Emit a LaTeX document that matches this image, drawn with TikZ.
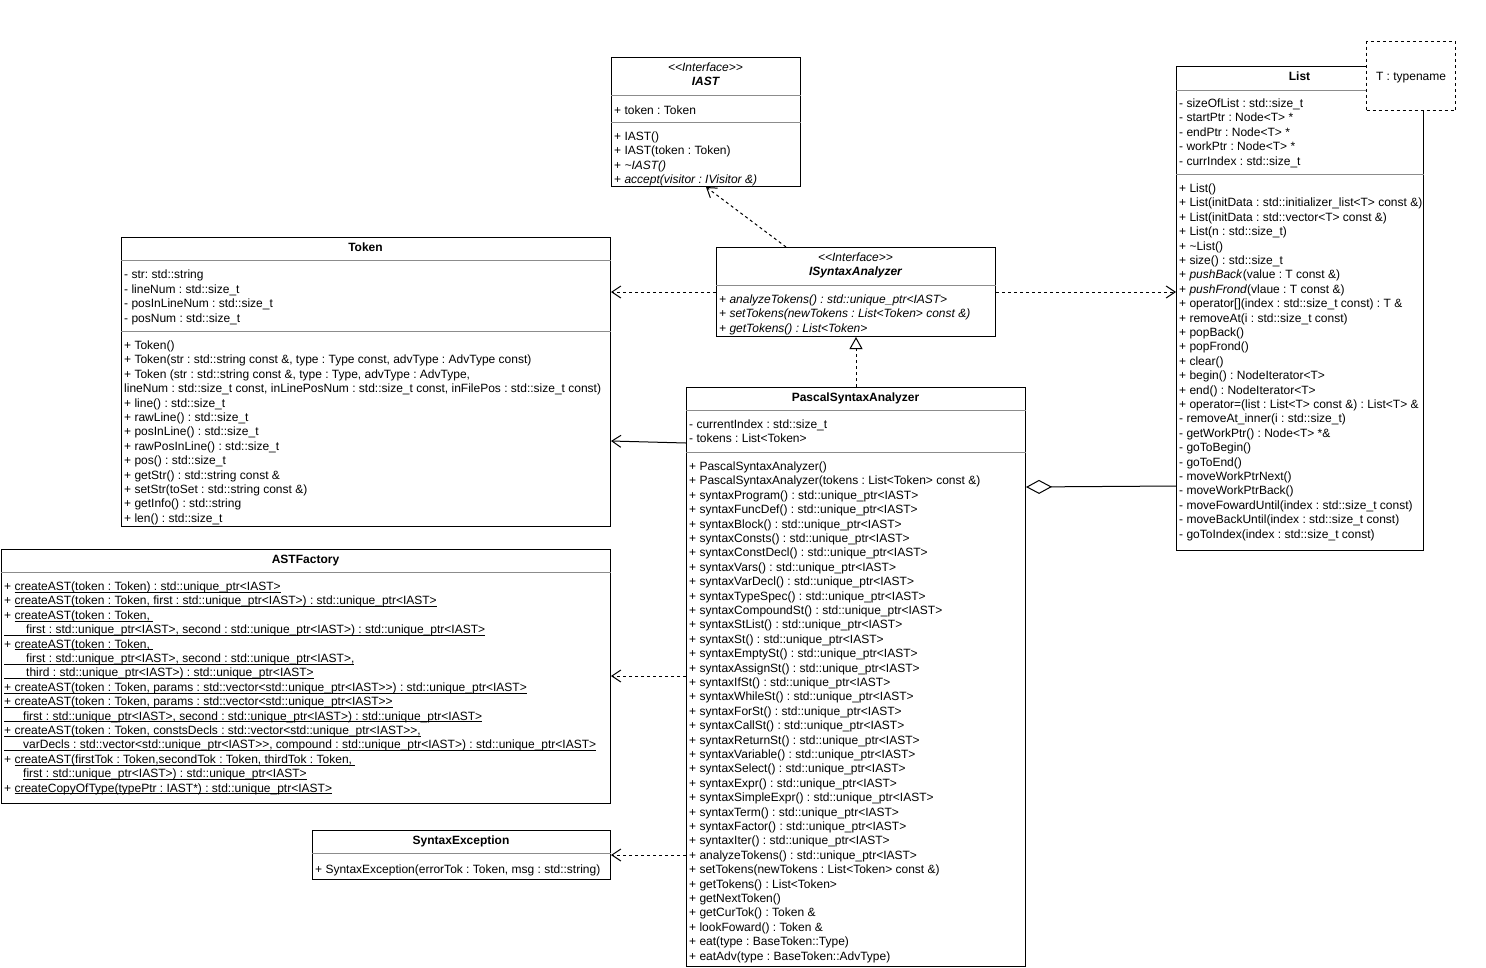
\documentclass[tikz,border=0pt]{standalone}
\usepackage{fontspec}
\setmainfont{Liberation Sans}
\usetikzlibrary{arrows.meta,calc}
\newcommand\dlt{<\kern0pt<}
\newcommand\dgt{>\kern0pt>}
\newcommand\und[1]{\setbox0\hbox{#1}\rlap{\vrule width\wd0 height -1.4pt depth 2.4pt}\box0}
\newcommand\umlsize{\fontsize{12pt}{14.4pt}\selectfont\frenchspacing}
\begin{document}
\frenchspacing
\begin{tikzpicture}[x=1pt,y=-1pt,
  cls/.style={draw=black, line width=1pt, fill=white, inner sep=0pt, anchor=north west},
  sepl/.style={draw=black!45, line width=1pt},
  txt/.style={anchor=north west, inner sep=0pt, align=left, font=\umlsize, yshift=-2pt, execute at begin node={\rule{0pt}{10pt}}},
  ttl/.style={anchor=base, inner sep=0pt, font=\umlsize\bfseries},
  ittl/.style={anchor=base, inner sep=0pt, font=\umlsize\bfseries\itshape},
  stereo/.style={anchor=base, inner sep=0pt, font=\umlsize\itshape},
  dep/.style={draw, line width=1pt, dash pattern=on 3pt off 3pt, -{Straight Barb[length=9pt,width=12pt]}},
  assoc/.style={draw, line width=1pt, -{Straight Barb[length=9pt,width=12pt]}},
  real/.style={draw, line width=1pt, dash pattern=on 3pt off 3pt, -{Triangle[open,fill=white,length=12pt,width=13pt]}},
  agg/.style={draw, line width=1pt, {Diamond[open,fill=white,length=26pt,width=14pt]}-},
  tparamstyle/.style={draw=black, line width=1pt, dash pattern=on 3pt off 3pt, fill=white, inner sep=0pt, anchor=north west, font=\umlsize}
]
\useasboundingbox (0,0) rectangle (1486,967);

% ---------- IAST ----------
\node[cls, minimum width=189pt, minimum height=129pt] (iast) at (611,57) {};
\node[stereo] (iastst) at (705.5,71) {\dlt Interface\dgt};
\node[ittl] (iastt) at (705.5,85) {IAST};
\draw[sepl] (iast.west |- 0,95) -- (iast.east |- 0,95);
\node[txt] (iasta) at (614,102.5) {+ token : Token};
\draw[sepl] (iast.west |- 0,122) -- (iast.east |- 0,122);
\node[txt] (iastm) at (614,129.5) {+ IAST()\\+ IAST(token : Token)\\+ \textit{\textasciitilde IAST()}\\+ \textit{accept(visitor : IVisitor \&)}};

% ---------- Token ----------
\node[cls, minimum width=489pt, minimum height=289pt] (token) at (121,237) {};
\node[ttl] (tokent) at (365.5,251) {Token};
\draw[sepl] (token.west |- 0,260) -- (token.east |- 0,260);
\node[txt] (tokena) at (124,268) {- str: std::string\\- lineNum : std::size\_t\\- posInLineNum : std::size\_t\\- posNum : std::size\_t};
\draw[sepl] (token.west |- 0,331) -- (token.east |- 0,331);
\node[txt] (tokenm) at (124,338.5) {+ Token()\\
+ Token(str : std::string const \&, type : Type const, advType : AdvType const)\\
+ Token (str : std::string const \&, type : Type, advType : AdvType,\\
lineNum : std::size\_t const, inLinePosNum : std::size\_t const, inFilePos : std::size\_t const)\\
+ line() : std::size\_t\\
+ rawLine() : std::size\_t\\
+ posInLine() : std::size\_t\\
+ rawPosInLine() : std::size\_t\\
+ pos() : std::size\_t\\
+ getStr() : std::string const \&\\
+ setStr(toSet : std::string const \&)\\
+ getInfo() : std::string\\
+ len() : std::size\_t};

% ---------- ISyntaxAnalyzer ----------
\node[cls, minimum width=279pt, minimum height=89pt] (isa) at (716,247) {};
\node[stereo] (isast) at (855.5,261) {\dlt Interface\dgt};
\node[ittl] (isat) at (855.5,275) {ISyntaxAnalyzer};
\draw[sepl] (isa.west |- 0,285) -- (isa.east |- 0,285);
\node[txt, font=\umlsize\itshape] (isam) at (719,292.5) {+ analyzeTokens() : std::unique\_ptr<IAST>\\
+ setTokens(newTokens : List<Token> const \&)\\
+ getTokens() : List<Token>};

% ---------- List ----------
\node[cls, minimum width=247pt, minimum height=484pt] (list) at (1176,66) {};
\node[ttl] (listt) at (1299.5,80.5) {List};
\draw[sepl] (list.west |- 0,90) -- (list.east |- 0,90);
\node[txt] (lista) at (1179,96.5) {- sizeOfList : std::size\_t\\
- startPtr : Node<T> *\\
- endPtr : Node<T> *\\
- workPtr : Node<T> *\\
- currIndex : std::size\_t};
\draw[sepl] (list.west |- 0,174) -- (list.east |- 0,174);
\node[txt] (listm) at (1179,181.5) {+ List()\\
+ List(initData : std::initializer\_list<T> const \&)\\
+ List(initData : std::vector<T> const \&)\\
+ List(n : std::size\_t)\\
+ \textasciitilde List()\\
+ size() : std::size\_t\\
+ \textit{pushBack}(value : T const \&)\\
+ \textit{pushFrond}(vlaue : T const \&)\\
+ operator[](index : std::size\_t const) : T \&\\
+ removeAt(i : std::size\_t const)\\
+ popBack()\\
+ popFrond()\\
+ clear()\\
+ begin() : NodeIterator<T>\\
+ end() : NodeIterator<T>\\
+ operator=(list : List<T> const \&) : List<T> \&\\
- removeAt\_inner(i : std::size\_t)\\
- getWorkPtr() : Node<T> *\&\\
- goToBegin()\\
- goToEnd()\\
- moveWorkPtrNext()\\
- moveWorkPtrBack()\\
- moveFowardUntil(index : std::size\_t const)\\
- moveBackUntil(index : std::size\_t const)\\
- goToIndex(index : std::size\_t const)};

\node[tparamstyle, minimum width=89pt, minimum height=69pt] (tparam) at (1366,41) {};
\node[anchor=base, inner sep=0pt, font=\umlsize] (tparamt) at ($(tparam.center)+(0,4.5)$) {T : typename};

% ---------- PascalSyntaxAnalyzer ----------
\node[cls, minimum width=339pt, minimum height=579pt] (pascal) at (686,387) {};
\node[ttl] (pascalt) at (855.5,401.5) {PascalSyntaxAnalyzer};
\draw[sepl] (pascal.west |- 0,410) -- (pascal.east |- 0,410);
\node[txt] (pascala) at (689,417.5) {- currentIndex : std::size\_t\\- tokens : List<Token>};
\draw[sepl] (pascal.west |- 0,452) -- (pascal.east |- 0,452);
\node[txt] (pascalm) at (689,459.5) {+ PascalSyntaxAnalyzer()\\
+ PascalSyntaxAnalyzer(tokens : List<Token> const \&)\\
+ syntaxProgram() : std::unique\_ptr<IAST>\\
+ syntaxFuncDef() : std::unique\_ptr<IAST>\\
+ syntaxBlock() : std::unique\_ptr<IAST>\\
+ syntaxConsts() : std::unique\_ptr<IAST>\\
+ syntaxConstDecl() : std::unique\_ptr<IAST>\\
+ syntaxVars() : std::unique\_ptr<IAST>\\
+ syntaxVarDecl() : std::unique\_ptr<IAST>\\
+ syntaxTypeSpec() : std::unique\_ptr<IAST>\\
+ syntaxCompoundSt() : std::unique\_ptr<IAST>\\
+ syntaxStList() : std::unique\_ptr<IAST>\\
+ syntaxSt() : std::unique\_ptr<IAST>\\
+ syntaxEmptySt() : std::unique\_ptr<IAST>\\
+ syntaxAssignSt() : std::unique\_ptr<IAST>\\
+ syntaxIfSt() : std::unique\_ptr<IAST>\\
+ syntaxWhileSt() : std::unique\_ptr<IAST>\\
+ syntaxForSt() : std::unique\_ptr<IAST>\\
+ syntaxCallSt() : std::unique\_ptr<IAST>\\
+ syntaxReturnSt() : std::unique\_ptr<IAST>\\
+ syntaxVariable() : std::unique\_ptr<IAST>\\
+ syntaxSelect() : std::unique\_ptr<IAST>\\
+ syntaxExpr() : std::unique\_ptr<IAST>\\
+ syntaxSimpleExpr() : std::unique\_ptr<IAST>\\
+ syntaxTerm() : std::unique\_ptr<IAST>\\
+ syntaxFactor() : std::unique\_ptr<IAST>\\
+ syntaxIter() : std::unique\_ptr<IAST>\\
+ analyzeTokens() : std::unique\_ptr<IAST>\\
+ setTokens(newTokens : List<Token> const \&)\\
+ getTokens() : List<Token>\\
+ getNextToken()\\
+ getCurTok() : Token \&\\
+ lookFoward() : Token \&\\
+ eat(type : BaseToken::Type)\\
+ eatAdv(type : BaseToken::AdvType)};

% ---------- ASTFactory ----------
\node[cls, minimum width=609pt, minimum height=254pt] (astf) at (1,549) {};
\node[ttl] (astft) at (305.5,563.5) {ASTFactory};
\draw[sepl] (astf.west |- 0,572) -- (astf.east |- 0,572);
\node[txt] (astfm) at (4,579.5) {+ \und{createAST(token : Token) : std::unique\_ptr<IAST>}\\
+ \und{createAST(token : Token, first : std::unique\_ptr<IAST>) : std::unique\_ptr<IAST>}\\
+ \und{createAST(token : Token, }\\
\und{\hspace*{22pt}first : std::unique\_ptr<IAST>, second : std::unique\_ptr<IAST>) : std::unique\_ptr<IAST>}\\
+ \und{createAST(token : Token, }\\
\und{\hspace*{22pt}first : std::unique\_ptr<IAST>, second : std::unique\_ptr<IAST>,}\\
\und{\hspace*{22pt}third : std::unique\_ptr<IAST>) : std::unique\_ptr<IAST>}\\
\und{+ createAST(token : Token, params : std::vector<std::unique\_ptr<IAST\dgt) : std::unique\_ptr<IAST>}\\
\und{+ createAST(token : Token, params : std::vector<std::unique\_ptr<IAST\dgt}\\
\und{\hspace*{19pt}first : std::unique\_ptr<IAST>, second : std::unique\_ptr<IAST>) : std::unique\_ptr<IAST>}\\
\und{+ createAST(token : Token, constsDecls : std::vector<std::unique\_ptr<IAST\dgt,}\\
\und{\hspace*{19pt}varDecls : std::vector<std::unique\_ptr<IAST\dgt, compound : std::unique\_ptr<IAST>) : std::unique\_ptr<IAST>}\\
+ \und{createAST(firstTok : Token,secondTok : Token, thirdTok : Token, }\\
\hspace*{19pt}\und{first : std::unique\_ptr<IAST>) : std::unique\_ptr<IAST>}\\
+ \und{createCopyOfType(typePtr : IAST*) : std::unique\_ptr<IAST>}};

% ---------- SyntaxException ----------
\node[cls, minimum width=298pt, minimum height=49pt] (syn) at (312,830) {};
\node[ttl] (synt) at (461,844.5) {SyntaxException};
\draw[sepl] (syn.west |- 0,853) -- (syn.east |- 0,853);
\node[txt] (synm) at (315,861.5) {+ SyntaxException(errorTok : Token, msg : std::string)};

% ---------- connectors ----------
\draw[dep] ($(isa.north west)!0.25!(isa.north east)$) -- (iast.south);
\draw[dep] (isa.west) -- (isa.west -| token.east);
\draw[dep] (isa.east) -- (isa.east -| list.west);
\draw[real] (pascal.north) -- (isa.south);
\draw[assoc] (pascal.west |- 0,443) -- (token.east |- 0,441);
\draw[agg] (pascal.east |- 0,487) -- (list.west |- 0,486);
\draw[dep] (pascal.west |- 0,676) -- (astf.east |- 0,676);
\draw[dep] (syn.east -| pascal.west) -- (syn.east);
\end{tikzpicture}
\end{document}
